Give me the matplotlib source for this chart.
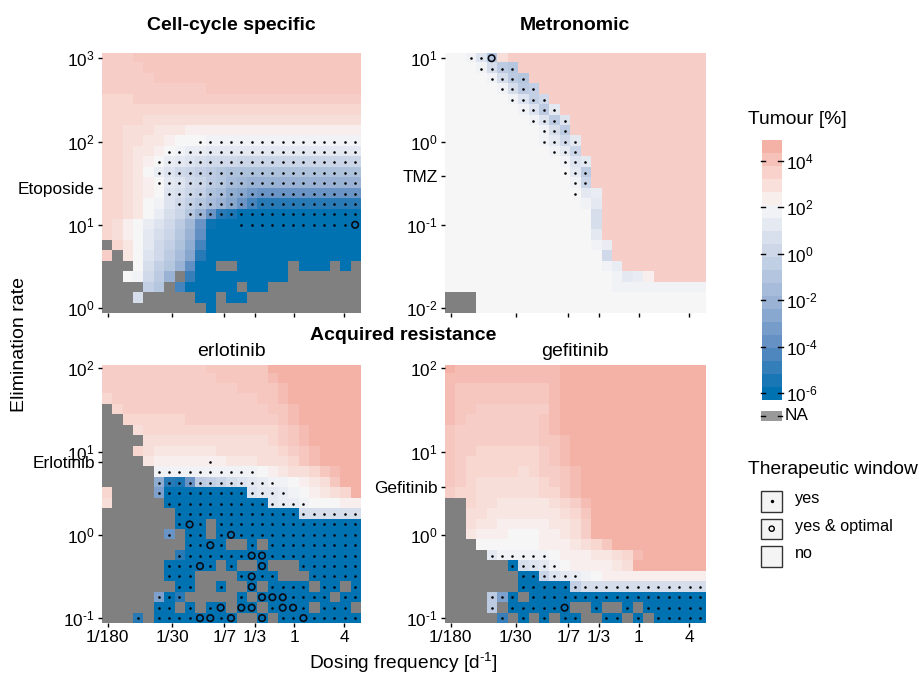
import numpy as np
import matplotlib
matplotlib.use("Agg")
import matplotlib.pyplot as plt
from matplotlib.colors import LinearSegmentedColormap, Normalize
from matplotlib.patches import Rectangle

plt.rcParams["font.family"] = ["Liberation Sans", "DejaVu Sans"]
plt.rcParams["mathtext.fontset"] = "custom"
plt.rcParams["mathtext.rm"] = "Liberation Sans"
plt.rcParams["mathtext.default"] = "rm"

# one char per cell, base 36: log10(tumour) = -6 + 0.3 * digit, "." = NA
cell_cycle = [
    "wwwxx xxxxx xxxxx xxxxx xxxxx",
    "wwwwx xxxxx xxxxx xxxxx xxxxx",
    "wwwww xxxxx xxxxx xxxxx xxxxx",
    "wwwww wwwww xxxxx xxxxx xxxxx",
    "vvvww wwwww wwwww wwwww wwwww",
    "vvvvv vvvvv vvvvv vvvvv vvvvv",
    "vvvvu uuuuu uuuuu uuuuu uuuuu",
    "vvuuu tttss sssss sssss sssss",
    "vvuut tsrrr qqqqq qqqqq qqqqq",
    "vvutt srqpp ooooo ooooo ooooo",
    "vvuts rponm lllkk kkkkk kkkkk",
    "vvutr pnlkj ihggg ggggg ggggg",
    "vvuts ronlk ihfed ddddd ddddd",
    "vvuts rnmkj gfcb9 88888 88888",
    "vvutr qnljh fdb85 33333 33333",
    "vvutr pmkhd 83200 00000 00000",
    "vusrp nlie8 10000 00000 00000",
    "vusro mkhd7 00000 00000 00000",
    ".vtro ljgc5 00000 00000 00000",
    "w.trn lifb3 00000 00000 00000",
    "...rm jhd70 0..00 000.0 00.0.",
    "..rql id.40 00000 000.. .....",
    "....j h.500 000.0 0.... .....",
    "...m. ....0 0.00. ..... .....",
    "..... ..... 0.... ..... .....",
]
metronomic = [
    "rrqnh uwwww wwwww wwwww wwwww",
    "rrrqm ihwww wwwww wwwww wwwww",
    "rrrrq mihww wwwww wwwww wwwww",
    "rrrrr qmijw wwwww wwwww wwwww",
    "rrrrr rqnjl wwwww wwwww wwwww",
    "rrrrr rrqni owwww wwwww wwwww",
    "rrrrr rrrqn inwww wwwww wwwww",
    "rrrrr rrrrq miwww wwwww wwwww",
    "rrrrr rrrrq oloww wwwww wwwww",
    "rrrrr rrrrr qokww wwwww wwwww",
    "rrrrr rrrrr rqnow wwwww wwwww",
    "rrrrr rrrrr rroiw wwwww wwwww",
    "rrrrr rrrrr rrqkw wwwww wwwww",
    "rrrrr rrrrr rrrop wwwww wwwww",
    "rrrrr rrrrr rrrqo wwwww wwwww",
    "rrrrr rrrrr rrrrm wwwww wwwww",
    "rrrrr rrrrr rrrrm wwwww wwwww",
    "rrrrr rrrrr rrrro wwwww wwwww",
    "rrrrr rrrrr rrrrq pwwww wwwww",
    "rrrrr rrrrr rrrrr lwwww wwwww",
    "rrrrr rrrrr rrrrr qpwww wwwww",
    "rrrrr rrrrr rrrrr rqops wwwww",
    "rrrrr rrrrr rrrrr rqqqq qqqqq",
    "...rr rrrrr rrrrr rrrrr rrrrr",
    "...rr rrrrr rrrrr rrrrr rrrrr",
]
erlotinib = [
    "wwwww wwwww xxxxx xzzzz zzzzz",
    "wwwww wwwww wxxxx xyzzz zzzzz",
    "wwwww wwwww wwwxx xxyzz zzzzz",
    "vwwww wwwww wwwww xxyzz zzzzz",
    ".vwww wwwww wwwww wxxyz zzzzz",
    "..vvv vvvww wwwww wwxyz zzzzz",
    "...uv vvvvv vvvvv vvwxy zzzzz",
    "....u uuuuu uuuuu uvwxy zzzzz",
    "...vu ttttt tuuuu uuvwx yzzzz",
    "....t sssss ssttt uuuvx yzzzz",
    "..... qqqqq qqqqq rstuu vxyzz",
    "..... c328i jkmno pqqrs tuxzz",
    "v.... a0000 0000n oopqr stuvz",
    "u.... .0000 00000 0oppq rrrss",
    "..... ..000 00000 0000m mmmmm",
    "..... ..000 .0000 00000 00000",
    "..... .8.00 .0000 00000 00000",
    "..... ...00 00..0 .0000 00000",
    "..... ..300 00000 00000 00000",
    "..... .0000 0.0.. 0...0 00000",
    "..... .000. ...00 00... 00000",
    "..... ..00. .0..0 .0000 .00.0",
    "..... a03.. ...0. 00000 00.00",
    "..... 00.0. 00.00 .0000 .000.",
    "...3. 00000 000.. 0.000 00000",
]
gefitinib = [
    "zyyyy yyyyy yzzzz zzzzz zzzzz",
    "yyyyy yyyyy yzzzz zzzzz zzzzz",
    "yxxxx xxxxx yzzzz zzzzz zzzzz",
    "yxxxx xxxxx yzzzz zzzzz zzzzz",
    "yxxww wwwww yzzzz zzzzz zzzzz",
    "yxwww wwwwx yzzzz zzzzz zzzzz",
    "xwwww wwwwx yzzzz zzzzz zzzzz",
    "xwwww wwwwx xyzzz zzzzz zzzzz",
    "xwwvv vvvvw xyzzz zzzzz zzzzz",
    "xwvvv vvvvw xyzzz zzzzz zzzzz",
    "xwvvv vvuvw wxyzz zzzzz zzzzz",
    "xwvuu uuuuv wxyzz zzzzz zzzzz",
    "wvvuu uuuuv vxyzz zzzzz zzzzz",
    "..vuu ttttt uvwyz zzzzz zzzzz",
    "..uut ttttt tuvxz zzzzz zzzzz",
    "..utt sssss ttuwz zzzzz zzzzz",
    "..tss srrrs stuwz zzzzz zzzzz",
    "...rr rrrrs sstuv xzzzz zzzzz",
    "....o qqqqq rssst tuvyz zzzzz",
    "..... .0mno qrsss stuzz zzzzz",
    "..... ..00k nopqr sssss sssss",
    "..... ..000 00jmm mmmmm mmmmm",
    "....i a0.00 00000 00000 00000",
    "....i .0000 00..0 ..0.0 00000",
    "..... 4.0.0 .00.. 00.0. 00000",
]

# therapeutic window: row -> first and last column (NA cells get no mark)
window_cell = {8: (9, 24), 9: (6, 24), 10: (5, 24), 11: (5, 24), 12: (5, 24),
               13: (6, 24), 14: (7, 24), 15: (8, 24), 16: (13, 24)}
window_metro = {0: (2, 4), 1: (3, 6), 2: (4, 7), 3: (5, 8), 4: (6, 9), 5: (7, 10),
                6: (8, 11), 7: (9, 11), 8: (9, 12), 9: (10, 12), 10: (11, 13),
                11: (11, 13), 12: (12, 13), 13: (12, 12)}
window_erlo = {9: (10, 10), 10: (5, 14), 11: (5, 16), 12: (5, 17), 13: (6, 19),
               14: (7, 24), 15: (7, 24), 16: (6, 24), 17: (8, 24), 18: (7, 24),
               19: (6, 24), 20: (6, 24), 21: (7, 24), 22: (5, 24), 23: (5, 24),
               24: (3, 24)}
window_gefi = {18: (4, 9), 19: (6, 10), 20: (7, 12), 21: (7, 24), 22: (4, 24),
               23: (4, 24), 24: (5, 24)}

# optimal cells (row, column)
optimal_cell = [(16, 24)]
optimal_metro = [(0, 4)]
optimal_erlo = [(15, 8), (16, 12), (17, 10), (18, 14), (18, 15), (19, 9), (19, 15),
                (20, 14), (21, 14), (22, 15), (22, 16), (22, 17), (23, 11), (23, 13),
                (23, 14), (23, 17), (23, 18), (24, 9), (24, 10), (24, 12), (24, 15),
                (24, 19)]
optimal_gefi = [(23, 11)]

freq_ticks = [1 / 180, 1 / 30, 1 / 7, 1 / 3, 1, 4]
freq_labels = ["1/180", "1/30", "1/7", "1/3", "1", "4"]
tumour_ticks = [-6, -4, -2, 0, 2, 4]

# log10 of the top row, exponents on the axis, drug tick
y_tops = [3, 1, 2, 2]
y_exps = [[0, 1, 2, 3], [-2, -1, 0, 1], [-1, 0, 1, 2], [-1, 0, 1, 2]]
drug_names = ["Etoposide", "TMZ", "Erlotinib", "Gefitinib"]
drug_values = [27.5, 0.39, 7.5, 3.8]

titles = ["Cell-cycle specific", "Metronomic", "erlotinib", "gefitinib"]
grids = [cell_cycle, metronomic, erlotinib, gefitinib]
windows = [window_cell, window_metro, window_erlo, window_gefi]
optimals = [optimal_cell, optimal_metro, optimal_erlo, optimal_gefi]

W, H = 920, 674
FS = 12.4


def px_axes(left, top, right, bottom):
    return fig.add_axes([left / W, 1 - bottom / H, (right - left) / W, (bottom - top) / H])


def power(e):
    if e < 0:
        return r"$10^{\text{-}%d}$" % abs(e)
    return r"$10^{%d}$" % e


def parse(rows):
    vals = []
    for row in rows:
        row = row.replace(" ", "")
        vals.append([np.nan if c == "." else -6 + 0.3 * int(c, 36) for c in row])
    return np.array(vals)


cmap = LinearSegmentedColormap.from_list("tumour", [
    (0.0, "#0072B2"),
    (1.0 / 10.5, "#2F7CB8"),
    (2.0 / 10.5, "#5E8DC2"),
    (4.0 / 10.5, "#9DB5D6"),
    (6.0 / 10.5, "#CAD5E7"),
    (7.0 / 10.5, "#DFE5F0"),
    (8.1 / 10.5, "#F7F7F7"),
    (9.0 / 10.5, "#F9DFDA"),
    (9.9 / 10.5, "#F7C8C0"),
    (1.0, "#F4B2A7"),
])
cmap.set_bad("#808080")
norm = Normalize(-6, 4.5)

fig = plt.figure(figsize=(W / 100, H / 100), dpi=100)

boxes = [(101.7, 53, 360.3, 313.3), (444.7, 53, 705.3, 313.3),
         (101.7, 365, 360.3, 623.3), (444.7, 365, 705.3, 623.3)]
x_left = np.log10(1 / 180) - 0.58 / 8
x_right = x_left + 25 / 8

for k in range(4):
    ax = px_axes(*boxes[k])
    z = parse(grids[k])
    top = y_tops[k]
    ax.imshow(z, cmap=cmap, norm=norm, aspect="auto", interpolation="nearest",
              extent=[x_left, x_right, top - 3 - 1 / 16, top + 1 / 16])

    # marks
    xs, ys = [], []
    for row, (a, b) in windows[k].items():
        for col in range(a, b + 1):
            if not np.isnan(z[row, col]) and (row, col) not in optimals[k]:
                xs.append(x_left + (col + 0.5) / 8)
                ys.append(top - row / 8)
    ax.scatter(xs, ys, s=3.4, c="black", linewidths=0, zorder=3)
    ox = [x_left + (c + 0.5) / 8 for r, c in optimals[k]]
    oy = [top - r / 8 for r, c in optimals[k]]
    ax.scatter(ox, oy, s=22, facecolors="none", edgecolors="#0a0a14", linewidths=1.2, zorder=3)

    ax.set_xlim(x_left, x_right)
    if k < 2:
        ax.set_ylim(top - 3 - 1 / 16, top + 1 / 16)
    else:
        ax.set_ylim(top - 3 - 1 / 16, top + 0.04)

    ax.set_xticks(np.log10(freq_ticks))
    if k >= 2:
        ax.set_xticklabels(freq_labels, fontsize=FS)
    else:
        ax.set_xticklabels([])
    ticks = list(y_exps[k]) + [np.log10(drug_values[k])]
    labels = [power(e) for e in y_exps[k]] + [drug_names[k]]
    ax.set_yticks(ticks)
    ax.set_yticklabels(labels, fontsize=FS)
    ax.tick_params(length=3, width=1, pad=2, color="black")
    for s in ax.spines.values():
        s.set_visible(False)

# overlay in pixel coordinates for texts and legends
lay = fig.add_axes([0, 0, 1, 1])
lay.set_xlim(0, W)
lay.set_ylim(H, 0)
lay.axis("off")
lay.patch.set_alpha(0)

lay.text(231, 25, titles[0], fontsize=14, fontweight="bold", ha="center", va="center")
lay.text(575, 25, titles[1], fontsize=14, fontweight="bold", ha="center", va="center")
lay.text(403.5, 335, "Acquired resistance", fontsize=14, fontweight="bold", ha="center", va="center")
lay.text(231, 352, titles[2], fontsize=14, ha="center", va="center")
lay.text(575, 352, titles[3], fontsize=14, ha="center", va="center")
lay.text(20, 345, "Elimination rate", fontsize=14, rotation=90, ha="center", va="center")
lay.text(403, 663, r"Dosing frequency [d$^{\text{-}1}$]", fontsize=13.8, ha="center", va="center")

# colour legend
lay.text(748, 120, "Tumour [%]", fontsize=13.9, ha="left", va="center")
cb = px_axes(762, 140, 781.7, 400)
band_edges = np.linspace(-6.29, 4.9, 21)
band_centres = (band_edges[:-1] + band_edges[1:]) / 2
cb.pcolormesh([0, 1], band_edges, band_centres.reshape(-1, 1), cmap=cmap, norm=norm)
cb.set_xlim(0, 1)
cb.set_ylim(-6.29, 4.9)
cb.set_xticks([])
cb.yaxis.tick_right()
cb.set_yticks(tumour_ticks)
cb.set_yticklabels([power(e) for e in tumour_ticks], fontsize=FS)
cb.tick_params(length=0, pad=3)
for s in cb.spines.values():
    s.set_visible(False)
for e in tumour_ticks:
    cb.plot([-0.05, 0.17], [e, e], color="black", lw=1, clip_on=False, zorder=5)
    cb.plot([0.83, 1.05], [e, e], color="black", lw=1, clip_on=False, zorder=5)
lay.add_patch(Rectangle((761, 411), 21, 10, facecolor="#9a9a9a", edgecolor="none"))
lay.plot([761, 765], [416, 416], color="black", lw=1)
lay.plot([778, 782], [416, 416], color="black", lw=1)
lay.text(785, 416, "NA", fontsize=FS, ha="left", va="center")

# window legend
lay.text(748, 470, "Therapeutic window", fontsize=13.8, ha="left", va="center")
legend_labels = ["yes", "yes & optimal", "no"]
legend_tops = [491, 518.5, 546]
for lab, t in zip(legend_labels, legend_tops):
    lay.add_patch(Rectangle((761.5, t), 20.5, 20.5, facecolor="#F4F4F4", edgecolor="#333333", lw=1))
    lay.text(795, t + 8, lab, fontsize=11.7, ha="left", va="center")
lay.scatter([771.7], [legend_tops[0] + 10.2], s=6, c="black", linewidths=0)
lay.scatter([771.7], [legend_tops[1] + 10.2], s=14, facecolors="none", edgecolors="black", linewidths=1)

fig.savefig("out.png", dpi=100)
